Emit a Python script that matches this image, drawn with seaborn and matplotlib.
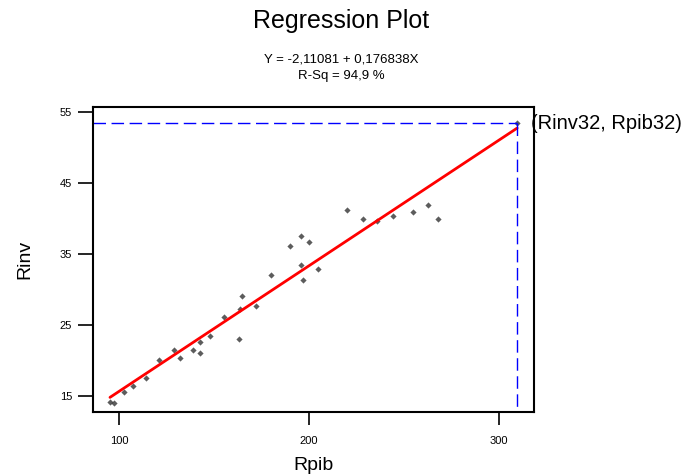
import matplotlib
matplotlib.use('Agg')
import matplotlib.pyplot as plt
import seaborn as sns
import pandas as pd

# values
rpib = [95.3, 97.5, 102.8, 107.2, 114.2, 120.9, 129.1, 132.1, 138.8, 142.6,
        142.6, 147.9, 155.4, 163.0, 163.7, 164.6, 171.9, 180.2, 190.0, 196.0,
        196.0, 196.7, 200.2, 204.9, 220.2, 228.2, 235.6, 244.0, 254.6, 262.8,
        268.0, 309.6]
rinv = [14.2, 14.0, 15.6, 16.4, 17.6, 20.1, 21.5, 20.4, 21.5, 22.6,
        21.0, 23.45, 26.1, 23.0, 27.3, 29.1, 27.7, 32.1, 36.1, 37.5,
        33.5, 31.3, 36.7, 32.9, 41.15, 39.9, 39.7, 40.35, 40.96, 41.9,
        39.9, 53.4]
x_ticks = [100, 200, 300]
y_ticks = [15, 25, 35, 45, 55]

data = pd.DataFrame({'Rpib': rpib, 'Rinv': rinv})

sns.set_style('white')
plt.rcParams['font.family'] = ['Liberation Sans', 'DejaVu Sans']
plt.rcParams['text.color'] = 'black'
plt.rcParams['axes.labelcolor'] = 'black'
plt.rcParams['xtick.color'] = 'black'
plt.rcParams['ytick.color'] = 'black'

fig = plt.figure(figsize=(6.88, 4.75), dpi=100)
ax = fig.add_axes([0.135, 0.1326, 0.641, 0.642])

sns.regplot(data=data, x='Rpib', y='Rinv', ax=ax, ci=None,
            marker='D', scatter_kws={'s': 10, 'color': '#333333', 'linewidths': 0},
            line_kws={'color': 'red', 'lw': 2})

# reference lines to the last observation
x32, y32 = rpib[-1], rinv[-1]
ax.plot([86.3, x32], [y32, y32], color='blue', lw=1, dashes=(9, 4))
ax.plot([x32, x32], [y32, 12.75], color='blue', lw=1, dashes=(9, 4))
ax.text(x32 + 7.5, y32, '(Rinv32, Rpib32)', fontsize=14.5, va='center', ha='left')

ax.set_xlim(86.3, 318.4)
ax.set_ylim(12.75, 55.7)
ax.set_xticks(x_ticks)
ax.set_yticks(y_ticks)
ax.tick_params(axis='both', labelsize=8, width=1.2, direction='out',
               left=True, bottom=True, color='black')
ax.tick_params(axis='x', length=9, pad=8)
ax.tick_params(axis='y', length=11, pad=4)
for s in ax.spines.values():
    s.set_color('black')
    s.set_linewidth(1.5)

ax.set_xlabel('Rpib', fontsize=14, labelpad=8)
ax.set_ylabel('Rinv', fontsize=14, labelpad=19)

fig.text(0.496, 0.955, 'Regression Plot', fontsize=18, ha='center', va='center')
fig.text(0.496, 0.874, 'Y = -2,11081 + 0,176838X', fontsize=9.5, ha='center', va='center')
fig.text(0.496, 0.839, 'R-Sq = 94,9 %', fontsize=9.5, ha='center', va='center')

fig.savefig('out.png', dpi=100)
